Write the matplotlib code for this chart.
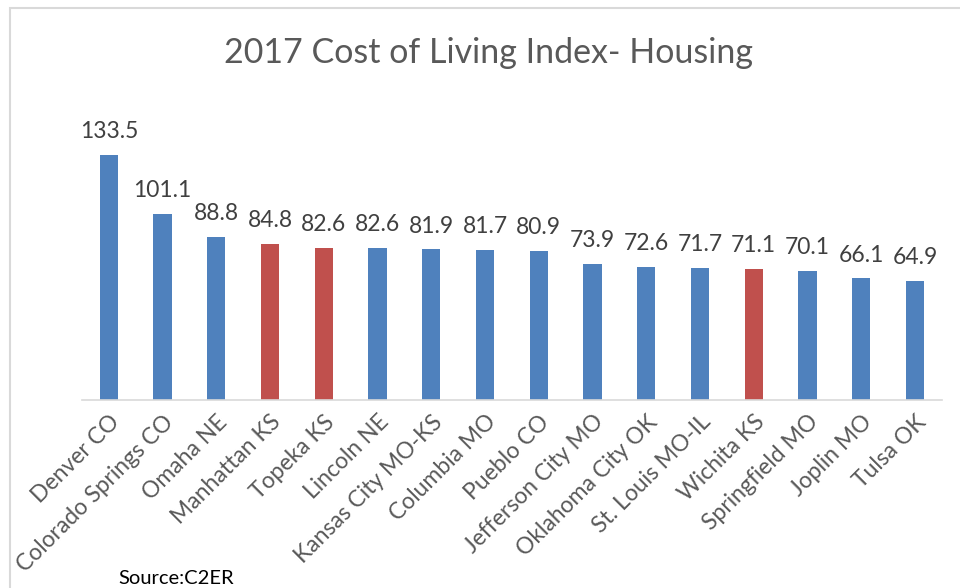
import matplotlib.pyplot as plt
from matplotlib.patches import Rectangle

cities = ['Denver CO', 'Colorado Springs CO', 'Omaha NE', 'Manhattan KS', 'Topeka KS',
          'Lincoln NE', 'Kansas City MO-KS', 'Columbia MO', 'Pueblo CO', 'Jefferson City MO',
          'Oklahoma City OK', 'St. Louis MO-IL', 'Wichita KS', 'Springfield MO', 'Joplin MO',
          'Tulsa OK']
housing = [133.5, 101.1, 88.8, 84.8, 82.6, 82.6, 81.9, 81.7, 80.9, 73.9, 72.6, 71.7, 71.1,
           70.1, 66.1, 64.9]
kansas = ['Manhattan KS', 'Topeka KS', 'Wichita KS']

plt.rcParams['font.family'] = ['Lato', 'DejaVu Sans']

fig = plt.figure(figsize=(9.6, 5.88), dpi=100)
# chart frame
fig.patches.append(Rectangle((10 / 960, -0.1), 1.2, 1 - 8 / 588 + 0.1, transform=fig.transFigure,
                             fill=False, edgecolor='#D9D9D9', linewidth=1.5))

ax = fig.add_axes([0.0854, 0.3197, 0.8956, 0.5003])
colors = ['#C0504D' if c in kansas else '#4F81BD' for c in cities]
x = range(len(cities))
bars = ax.bar(x, housing, width=0.34, color=colors)
for b, v in zip(bars, housing):
    ax.text(b.get_x() + b.get_width() / 2, v + 7, f'{v:.1f}', ha='center', va='bottom',
            fontsize=16.5, color='#404040')

ax.set_xlim(-0.5, len(cities) - 0.5)
ax.set_ylim(0, 160)
ax.set_yticks([])
ax.set_xticks(list(x))
ax.set_xticklabels(cities, rotation=45, ha='right', rotation_mode='anchor', fontsize=16.5,
                   color='#595959')
ax.tick_params(axis='x', length=0, pad=8)
for s in ['top', 'right', 'left']:
    ax.spines[s].set_visible(False)
ax.spines['bottom'].set_color('#D9D9D9')
ax.spines['bottom'].set_linewidth(1.2)

fig.text(489 / 960, 1 - 53 / 588, '2017 Cost of Living Index- Housing', ha='center', va='center',
         fontsize=24.5, color='#595959')
fig.text(118 / 960, 1 - 579 / 588, 'Source:C2ER', ha='left', va='center', fontsize=14.5,
         color='#000000')

plt.savefig('out.png')
